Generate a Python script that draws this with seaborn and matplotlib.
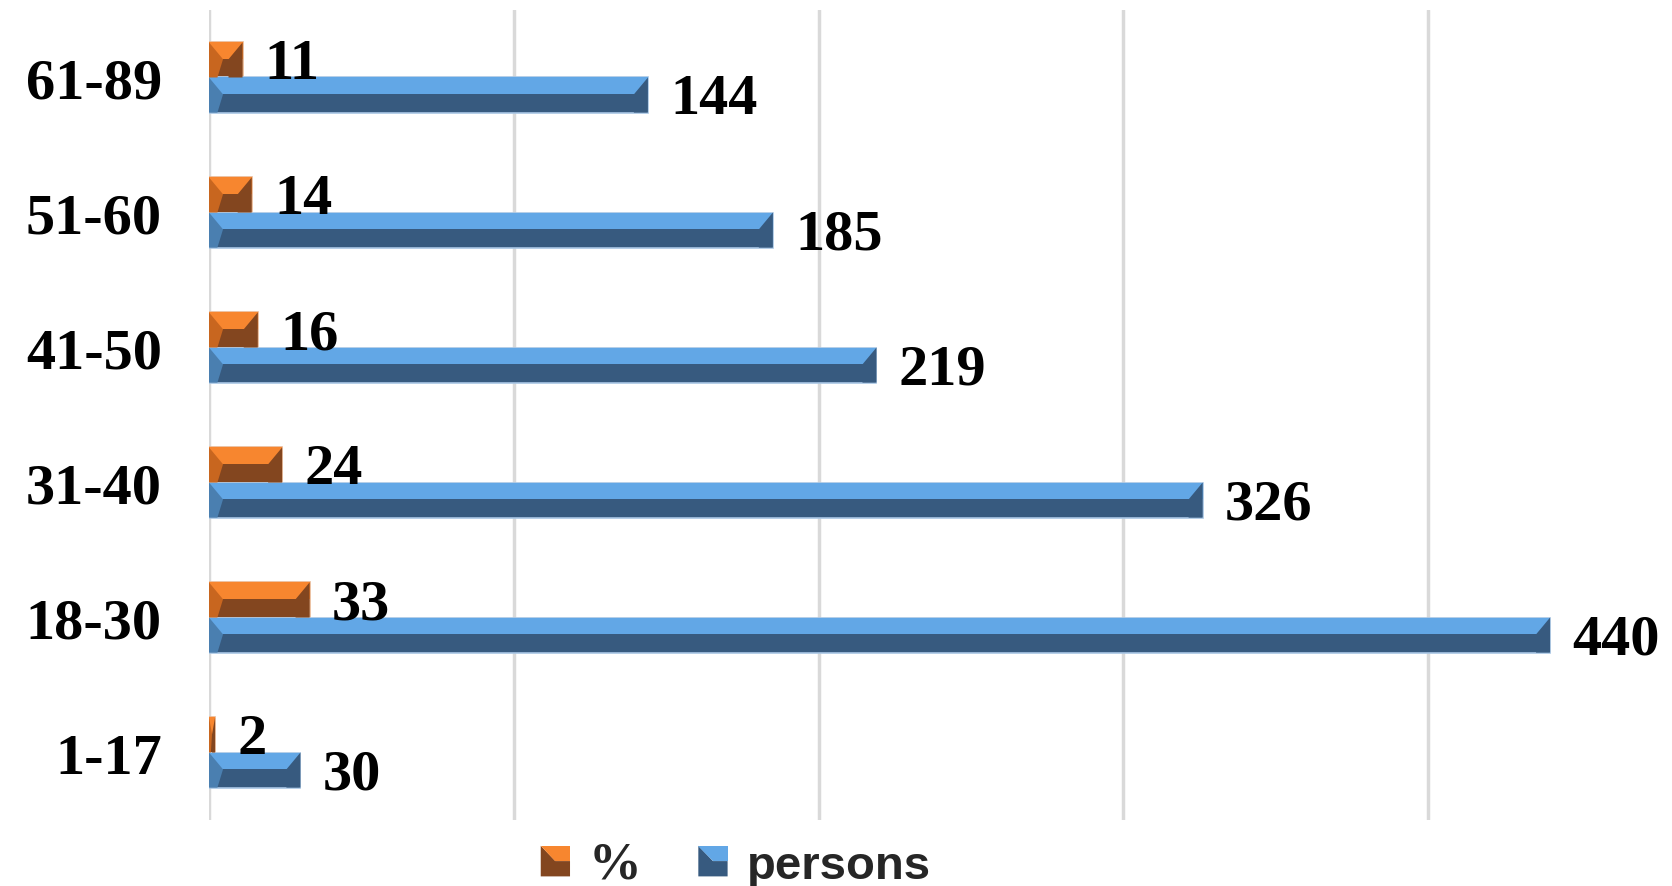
import numpy as np
import pandas as pd
import seaborn as sns
import matplotlib
matplotlib.use("Agg")
import matplotlib.pyplot as plt
from matplotlib.patches import Rectangle, Polygon
from matplotlib.legend_handler import HandlerBase

# ---------------- data ----------------
age_groups = ["1-17", "18-30", "31-40", "41-50", "51-60", "61-89"]
persons = [30, 440, 326, 219, 185, 144]
percent = [2, 33, 24, 16, 14, 11]
series_names = ["%", "persons"]

df = pd.DataFrame({
    "age": age_groups * 2,
    "value": percent + persons,
    "series": ["%"] * len(age_groups) + ["persons"] * len(age_groups),
})

# ---------------- style ----------------
sns.set_theme(style="white")
plt.rcParams["font.family"] = ["Liberation Serif", "DejaVu Sans"]

dark = {"%": "#83461F", "persons": "#375A7F"}
light = {"%": "#F7862F", "persons": "#62A7E6"}
side = {"%": "#C8661F", "persons": "#4A7FB0"}
edge = {"%": "#E9B894", "persons": "#A8C6E4"}

fig = plt.figure(figsize=(16.72, 8.87), dpi=100)
ax = fig.add_axes([0.125, 0.0744, 0.875, 0.9132])

order = age_groups[::-1]
sns.barplot(data=df, y="age", x="value", hue="series", order=order,
            hue_order=series_names, palette=dark, width=0.52, orient="h",
            saturation=1, ax=ax, legend=False)

ax.set_xlim(0, 480)
ax.set_ylim(len(order) - 0.5, -0.5)

# bevel shading derived from the drawn bar patches
for cont, name in zip(ax.containers, series_names):
    for p in cont.patches:
        x0, y0, w, h = p.get_x(), p.get_y(), p.get_width(), p.get_height()
        p.set_edgecolor(edge[name])
        p.set_linewidth(1.2)
        ym = y0 + h * 0.48
        d = min(4.6, w / 2)
        ax.add_patch(Rectangle((x0, y0), w, ym - y0, facecolor=light[name],
                               edgecolor="none", zorder=p.get_zorder() + 0.1))
        ax.add_patch(Polygon([(x0 + w, y0), (x0 + w - d, ym), (x0 + w - d, y0 + h),
                              (x0 + w, y0 + h)], closed=True, facecolor=dark[name],
                             edgecolor="none", zorder=p.get_zorder() + 0.2))
        ax.add_patch(Polygon([(x0, y0), (x0 + d, ym), (x0 + d * 0.6, y0 + h), (x0, y0 + h)],
                             closed=True, facecolor=side[name], edgecolor="none",
                             zorder=p.get_zorder() + 0.2))
        ax.annotate(f"{int(round(w))}", xy=(x0 + w, y0 + h / 2), xytext=(16, -3),
                    textcoords="offset points", ha="left", va="center",
                    fontsize=42, fontweight="bold", family="Liberation Serif",
                    color="black", zorder=10, annotation_clip=False)

# axes cosmetics
ax.set_xticks([0, 100, 200, 300, 400])
ax.set_xticklabels([])
ax.xaxis.grid(True, color="#D9D9D9", linewidth=2.5)
ax.set_axisbelow(True)
for s in ax.spines.values():
    s.set_visible(False)
ax.tick_params(axis="both", length=0)
ax.tick_params(axis="y", pad=34)
ax.set_xlabel("")
ax.set_ylabel("")
for t in ax.get_yticklabels():
    t.set_fontsize(42)
    t.set_fontweight("bold")
    t.set_family("Liberation Serif")
    t.set_color("black")


# legend with bevel-looking keys
class BevelHandler(HandlerBase):
    def __init__(self, top, bottom):
        super().__init__()
        self.top, self.bottom = top, bottom

    def create_artists(self, legend, orig_handle, xdescent, ydescent, width, height,
                       fontsize, trans):
        x0, y0 = -xdescent, -ydescent
        a = Polygon([(x0, y0 + height), (x0 + width, y0 + height), (x0 + width, y0 + height * 0.5),
                     (x0 + width * 0.5, y0 + height * 0.5)], closed=True,
                    facecolor=self.top, edgecolor="none", transform=trans)
        b = Polygon([(x0, y0), (x0 + width, y0), (x0 + width, y0 + height * 0.5),
                     (x0 + width * 0.5, y0 + height * 0.5), (x0, y0 + height)], closed=True,
                    facecolor=self.bottom, edgecolor="none", transform=trans)
        return [b, a]


h1 = Rectangle((0, 0), 1, 1)
h2 = Rectangle((0, 0), 1, 1)
leg = fig.legend([h1, h2], series_names, loc="center", bbox_to_anchor=(0.44, 0.024),
                 ncol=2, frameon=False, fontsize=34, handlelength=0.62, handleheight=0.62,
                 handletextpad=0.4, columnspacing=1.2,
                 handler_map={h1: BevelHandler(light["%"], dark["%"]),
                              h2: BevelHandler(light["persons"], dark["persons"])})
texts = leg.get_texts()
texts[0].set_family("Liberation Serif")
texts[0].set_fontweight("bold")
texts[0].set_fontsize(38)
texts[1].set_family("Liberation Sans")
texts[1].set_fontweight("bold")

fig.savefig("out.png", dpi=100, facecolor="white")
